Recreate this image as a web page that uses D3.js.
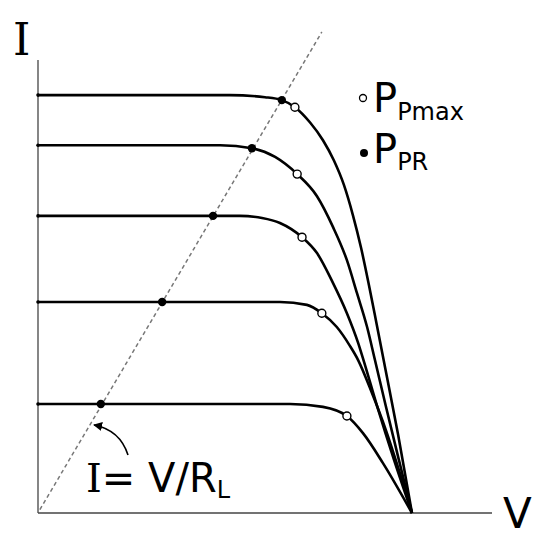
<!DOCTYPE html>
<html>
<head>
<meta charset="utf-8">
<script src="https://cdn.jsdelivr.net/npm/d3@7"></script>
<style>
	body { margin: 0; background: white; }
	text { font-family: "DejaVu Sans", Verdana, sans-serif; fill: black; }
</style>
</head>
<body>
<script>
// curves: V normalised to Voc = 1, I normalised to top Isc = 1
var curve1 = [[0, 1.0], [0.513, 1.0], [0.607, 0.995], [0.652, 0.988], [0.687, 0.971], [0.727, 0.935],
	[0.762, 0.892], [0.791, 0.844], [0.818, 0.785], [0.842, 0.713], [0.864, 0.634], [0.885, 0.545],
	[0.906, 0.450], [0.928, 0.349], [0.963, 0.187], [1, 0]];
var curve2 = [[0, 0.880], [0.487, 0.880], [0.572, 0.873], [0.634, 0.852], [0.693, 0.811], [0.746, 0.758],
	[0.789, 0.684], [0.826, 0.605], [0.853, 0.526], [0.880, 0.445], [0.901, 0.366], [0.930, 0.256],
	[0.965, 0.127], [1, 0]];
var curve3 = [[0, 0.711], [0.540, 0.711], [0.599, 0.706], [0.647, 0.694], [0.706, 0.660], [0.746, 0.622],
	[0.789, 0.550], [0.826, 0.478], [0.856, 0.407], [0.872, 0.361], [0.906, 0.258], [0.952, 0.127], [1, 0]];
var curve4 = [[0, 0.505], [0.647, 0.505], [0.719, 0.498], [0.759, 0.478], [0.799, 0.445], [0.834, 0.400],
	[0.856, 0.366], [0.893, 0.287], [0.930, 0.199], [0.965, 0.103], [1, 0]];
var curve5 = [[0, 0.261], [0.674, 0.261], [0.762, 0.254], [0.826, 0.232], [0.869, 0.191], [0.922, 0.120], [1, 0]];
var curves = [curve1, curve2, curve3, curve4, curve5];

// maximum power points (open) and operating points on the load line (filled)
var pmaxPoints = [[0.687, 0.971], [0.693, 0.811], [0.706, 0.660], [0.759, 0.478], [0.826, 0.232]];
var prPoints = [[0.652, 0.988], [0.572, 0.873], [0.468, 0.711], [0.332, 0.505], [0.168, 0.261]];

// load line I = V / R_L
var loadLine = [[0.005, 0.008], [0.759, 1.151]];

var width = 549, height = 550;
var x = d3.scaleLinear().domain([0, 1.214]).range([38, 492]);
var y = d3.scaleLinear().domain([0, 1.084]).range([513, 60]);

var svg = d3.select("body")
	.append("svg")
		.attr("width", width)
		.attr("height", height);

svg.append("defs")
	.append("marker")
		.attr("id", "arrow")
		.attr("viewBox", "0 0 10 10")
		.attr("refX", 9)
		.attr("refY", 5)
		.attr("markerWidth", 9)
		.attr("markerHeight", 9)
		.attr("markerUnits", "userSpaceOnUse")
		.attr("orient", "auto")
	.append("path")
		.attr("d", "M0,0 L10,5 L0,10 z")
		.attr("fill", "black");

// axes
svg.append("line")
		.attr("x1", x(0)).attr("y1", y(0))
		.attr("x2", x(0)).attr("y2", y(1.084))
		.attr("stroke", "#444")
		.attr("stroke-width", 1.3);
svg.append("line")
		.attr("x1", x(0)).attr("y1", y(0))
		.attr("x2", x(1.214)).attr("y2", y(0))
		.attr("stroke", "#444")
		.attr("stroke-width", 1.3);

var line = d3.line()
		.x(function(d) { return x(d[0]); })
		.y(function(d) { return y(d[1]); });

// dashed load line
svg.append("path")
		.datum(loadLine)
		.attr("d", line)
		.attr("fill", "none")
		.attr("stroke", "#777")
		.attr("stroke-width", 1.5)
		.attr("stroke-dasharray", "4,3");

svg.append("g")
	.selectAll("path")
		.data(curves)
	.enter()
	.append("path")
		.attr("d", line.curve(d3.curveMonotoneX))
		.attr("fill", "none")
		.attr("stroke", "black")
		.attr("stroke-width", 2.6);

svg.append("g")
	.selectAll("circle")
		.data(curves)
	.enter()
	.append("circle")
		.attr("cx", function(d) { return x(d[0][0]); })
		.attr("cy", function(d) { return y(d[0][1]); })
		.attr("r", 1.8)
		.attr("fill", "black");

svg.append("g")
	.selectAll("circle")
		.data(prPoints)
	.enter()
	.append("circle")
		.attr("cx", function(d) { return x(d[0]); })
		.attr("cy", function(d) { return y(d[1]); })
		.attr("r", 4.2)
		.attr("fill", "black");

svg.append("g")
	.selectAll("circle")
		.data(pmaxPoints)
	.enter()
	.append("circle")
		.attr("cx", function(d) { return x(d[0]); })
		.attr("cy", function(d) { return y(d[1]); })
		.attr("r", 4)
		.attr("fill", "white")
		.attr("stroke", "black")
		.attr("stroke-width", 1.4);

// axis labels
svg.append("text")
		.attr("x", 13)
		.attr("y", 55)
		.style("font-family", "'DejaVu Serif', serif")
		.style("font-size", "44px")
		.text("I");
svg.append("text")
		.attr("x", 503)
		.attr("y", 528)
		.style("font-size", "42px")
		.text("V");

// legend
svg.append("circle")
		.attr("cx", 363).attr("cy", 98).attr("r", 3.5)
		.attr("fill", "white").attr("stroke", "black").attr("stroke-width", 1.3);
svg.append("circle")
		.attr("cx", 364).attr("cy", 153).attr("r", 4)
		.attr("fill", "black");

var t1 = svg.append("text").attr("x", 373).attr("y", 112).style("font-size", "40px");
t1.append("tspan").text("P");
t1.append("tspan").attr("dy", 8).style("font-size", "24px").text("Pmax");

var t2 = svg.append("text").attr("x", 373).attr("y", 163).style("font-size", "40px");
t2.append("tspan").text("P");
t2.append("tspan").attr("dy", 7).style("font-size", "24px").text("PR");

// load line annotation
var t3 = svg.append("text").attr("x", 86).attr("y", 492).style("font-size", "40px");
t3.append("tspan").style("font-family", "'DejaVu Serif', serif").text("I");
t3.append("tspan").text("= V/R");
t3.append("tspan").attr("dy", 6).style("font-size", "24px").text("L");

svg.append("path")
		.attr("d", "M128,455 Q120,430 94,425")
		.attr("fill", "none")
		.attr("stroke", "black")
		.attr("stroke-width", 1.6)
		.attr("marker-end", "url(#arrow)");
</script>
</body>
</html>
